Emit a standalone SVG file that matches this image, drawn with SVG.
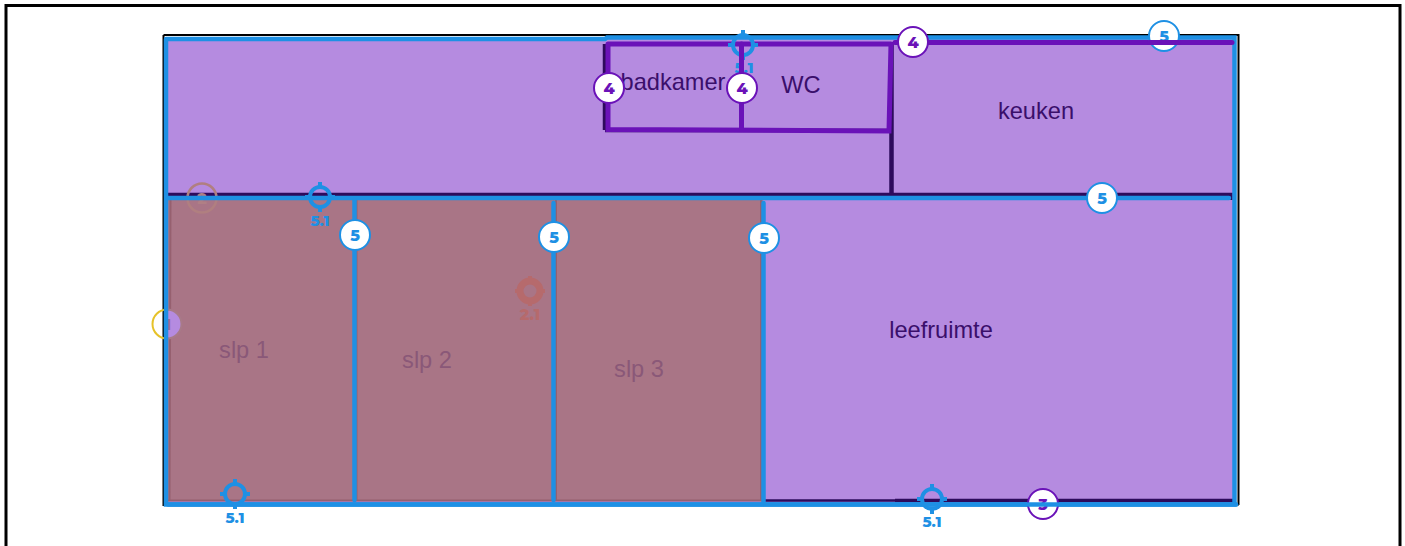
<svg xmlns="http://www.w3.org/2000/svg" width="1405" height="546" viewBox="0 0 1405 546">
<style>
.lbl{font-family:"Liberation Sans",Arial,sans-serif;font-size:23.6px;fill:#3a0f6b;text-anchor:middle}
.lbl2{font-family:"Liberation Sans",Arial,sans-serif;font-size:23.6px;fill:#8a5878;text-anchor:middle}
.wall{stroke:#2d0b5c;fill:none;stroke-width:3.5}
.shade{stroke:#96606f;fill:none;stroke-width:2}
.blue{stroke:#1e90e4;fill:none;stroke-width:4.500;stroke-linecap:round}
.vio{stroke:#6a12b8;fill:none;stroke-width:5;stroke-linecap:round}
.num{font-family:"Montserrat","Open Sans","Liberation Sans",sans-serif;font-weight:800;font-size:16px;text-anchor:middle}
.lab51{font-size:15px}
.c5{fill:#fff;stroke:#1e90e4;stroke-width:2}
.c4{fill:#fff;stroke:#6a12b8;stroke-width:2}
.t5{fill:#1e90e4}.t4{fill:#6a12b8}
.tgt{fill:none;stroke:#1e90e4;stroke-width:4}
</style>
<defs>
<g id="target"><circle r="10" class="tgt"/><path d="M0-15V-8M0 15V8M-15 0H-8M15 0H8" class="tgt"/></g>
<clipPath id="top5"><rect x="1140" y="15" width="50" height="26"/></clipPath>
</defs>
<rect x="6" y="5.500" width="1394" height="560" fill="#fff" stroke="#000" stroke-width="3"/>
<rect id="plan" x="165" y="37" width="1071" height="467" fill="#b58be0"/>
<g id="walls">
<path d="M163.500 35H1238.500V505M163.500 35V505H1238.500" fill="none" stroke="#000" stroke-width="2"/>
<path class="wall" d="M168 194.500H1231V200"/>
<path class="wall" style="stroke-width:4.500" d="M891.500 42V195"/>
<path class="wall" d="M604.500 44V130M605 130.500H890"/>
<path class="wall" style="stroke-width:2.500" d="M765 500.500H1233"/>
<path class="wall" d="M895 500.500H1233"/>
</g>
<g id="room-labels">
<text class="lbl" x="673" y="90">badkamer</text>
<text class="lbl" x="801" y="93">WC</text>
<text class="lbl" x="1036" y="119">keuken</text>
<text class="lbl" x="941" y="338">leefruimte</text>
</g>
<rect id="overlay" x="168" y="199" width="595" height="302" fill="#a2674f" fill-opacity=".62"/>
<path class="shade" d="M170.500 199L169.500 500M168 500.500H762M761 200V501M556 200V500M356.500 200V500"/>
<g id="node-2"><circle cx="202" cy="198" r="14.500" fill="none" stroke="#b07f80" stroke-width="2.500"/><text class="num" x="202" y="203.500" fill="#b07f85">2</text></g>
<g id="node-1"><path d="M167 309.500A14.500 14.500 0 0 1 167 338.500Z" fill="#b58be0" stroke="#a87a88" stroke-width="2"/><path d="M167 309.500A14.500 14.500 0 0 0 167 338.500" fill="none" stroke="#e6c229" stroke-width="2"/><text class="num" x="168" y="329.500" fill="#9a6a90">1</text></g>
<g id="node-2-1" transform="translate(530 291)"><circle r="10" fill="none" stroke="#b66a6c" stroke-width="7"/><path d="M0-15V-9M0 15V9M-15 0H-9M15 0H9" stroke="#b66a6c" stroke-width="4"/><text class="num" y="29" fill="#b66a6c" font-size="15">2.1</text></g>
<g id="bedroom-labels">
<text class="lbl2" x="244" y="358">slp 1</text>
<text class="lbl2" x="427" y="368">slp 2</text>
<text class="lbl2" x="639" y="377">slp 3</text>
</g>
<g id="connectors">
<path class="blue" d="M166 39H605L607 37.500H1234.500V504M166 39V504.500H1236"/>
<path class="blue" d="M168 198H1229"/>
<path class="blue" d="M354.500 200V500M553.500 203V500M763.500 203V504"/>
<path class="vio" d="M608 44H890M608 44V129.500L889 131L891 44M741.500 44V128"/>
<path class="vio" d="M895 42.500H1232"/>
</g>
<g id="marker-5-1-a" transform="translate(743 45)"><use href="#target"/></g>
<text class="num lab51 t5" x="744" y="73">5.1</text>
<path class="vio" d="M741.500 44V80"/>
<g id="marker-5-1-b" transform="translate(320 197)"><use href="#target"/><text class="num lab51 t5" y="29">5.1</text></g>
<g id="marker-5-1-c" transform="translate(235 494)"><use href="#target"/><text class="num lab51 t5" y="29">5.1</text></g>
<g id="marker-5-1-d" transform="translate(932 499)"><use href="#target"/><text class="num lab51 t5" y="28">5.1</text></g>
<path class="blue" d="M168 504.500H1236"/>
<g id="node-4a"><circle cx="609" cy="88" r="15" class="c4"/><text class="num t4" x="609" y="93.500">4</text></g>
<g id="node-4b"><circle cx="742" cy="88" r="15" class="c4"/><text class="num t4" x="742" y="93.500">4</text></g>
<g id="node-4c"><circle cx="913" cy="42" r="15" class="c4"/><text class="num t4" x="913" y="47.500">4</text></g>
<g id="node-5a"><circle cx="355" cy="235" r="15" class="c5"/><text class="num t5" x="355" y="240.500">5</text></g>
<g id="node-5b"><circle cx="554" cy="237" r="15" class="c5"/><text class="num t5" x="554" y="242.500">5</text></g>
<g id="node-5c"><circle cx="764" cy="238" r="15" class="c5"/><text class="num t5" x="764" y="243.500">5</text></g>
<g id="node-5d"><circle cx="1102" cy="198" r="15" class="c5"/><text class="num t5" x="1102" y="203.500">5</text></g>
<g id="node-5e"><circle cx="1164" cy="36" r="15" class="c5"/><text class="num t5" x="1164" y="41.500" clip-path="url(#top5)">5</text><path class="vio" d="M1149.500 42.500H1178.500"/></g>
<g id="node-3"><circle cx="1043" cy="504" r="15" class="c4"/><text class="num t4" x="1043" y="509.500">3</text><path class="blue" d="M1028 504.500H1058"/></g>
</svg>
